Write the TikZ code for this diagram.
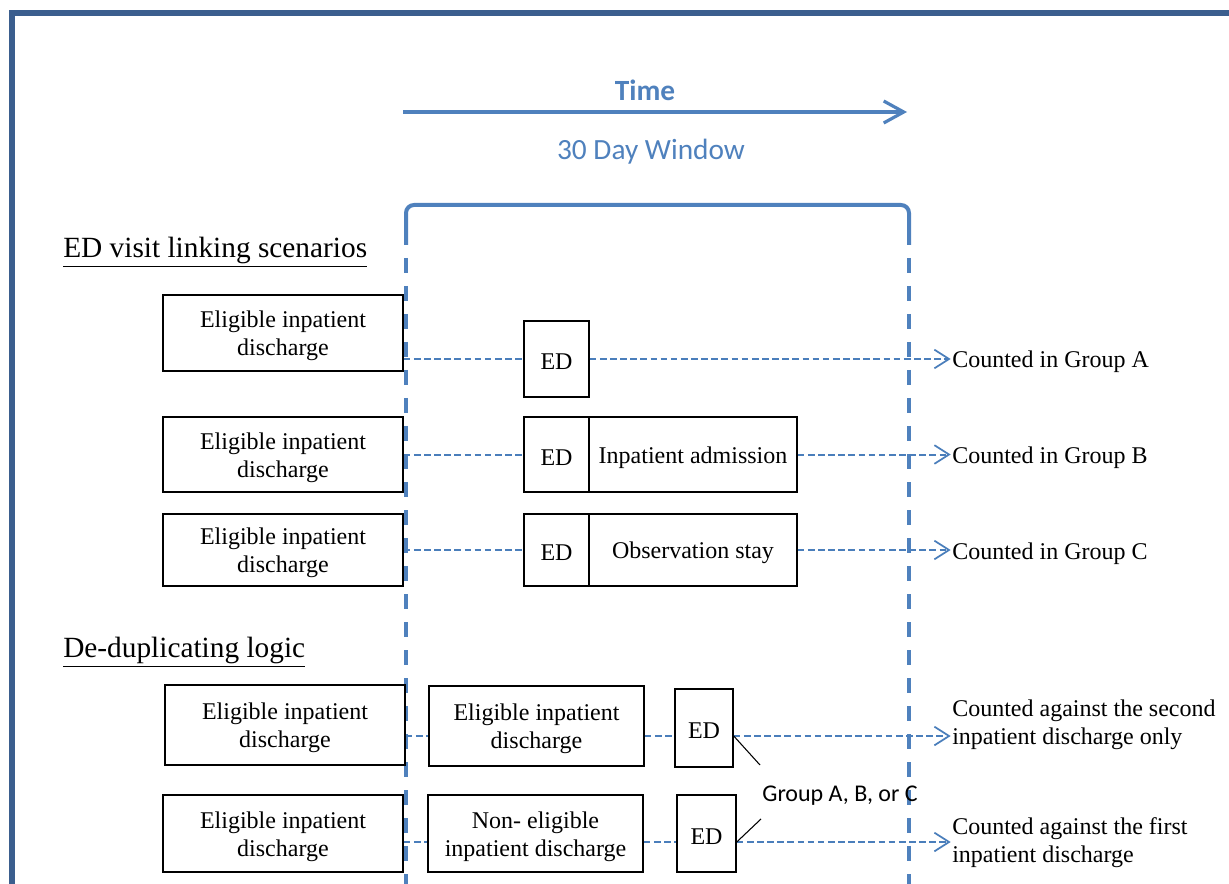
\documentclass[tikz,border=0pt]{standalone}
\usepackage{fontspec}
\setmainfont{Liberation Serif}
\newfontfamily\calibrifont{Carlito}
\usetikzlibrary{arrows.meta,calc}
\definecolor{framecol}{HTML}{3B5E8E}
\definecolor{winblue}{HTML}{4F81BD}
\definecolor{linkblue}{HTML}{4A7EBB}
\tikzset{
  boxnode/.style={draw=black, line width=1.1pt, inner sep=0pt},
  boxtext/.style={label={[align=center, inner sep=0pt, yshift=-2.25pt,
    font=\fontsize{18}{21}\selectfont]center:{#1}}},
  outtext/.style={anchor=west, align=left, inner sep=0pt,
    font=\fontsize{18}{21}\selectfont},
  linkline/.style={draw=linkblue, line width=1.5pt, dash pattern=on 5pt off 2.6pt},
  linkarrow/.style={linkline, -{Straight Barb[length=11pt,width=14pt,line width=1.3pt]}},
  heading/.style={anchor=west, inner sep=0pt, font=\fontsize{22}{26}\selectfont},
  windowline/.style={draw=winblue, line width=3pt},
  labelline/.style={draw=black, line width=0.8pt},
}
\begin{document}
\begin{tikzpicture}[x=0.75pt,y=-0.75pt]
\useasboundingbox (0,0) rectangle (1229,884);
% frame
\draw[framecol, line width=3.8pt] (12,884) -- (12,13) -- (1229,13);

% time arrow
\coordinate (tstart) at (403,112);
\coordinate (tend) at (907,112);
\draw[winblue, line width=2.6pt, -{Straight Barb[length=15pt,width=16.5pt,line width=2.4pt]}] (tstart) -- (tend);
\node[text=winblue, font=\calibrifont\bfseries\fontsize{22}{26}\selectfont] (time) at (645,90) {Time};
\node[text=winblue, font=\calibrifont\fontsize{22}{26}\selectfont] (win) at (651,152) {30 Day Window};

% window bracket
\coordinate (wl1) at (406,245);
\coordinate (wl0) at (406,205);
\coordinate (wr0) at (909,205);
\coordinate (wr1) at (909,245);
\draw[windowline, rounded corners=6pt] (wl1) -- (wl0) -- (wr0) -- (wr1);
\coordinate (wl2) at (406,258);
\coordinate (wl3) at (406,884);
\coordinate (wr2) at (909,258);
\coordinate (wr3) at (909,884);
\draw[windowline, dash pattern=on 11.25pt off 9.75pt] (wl2) -- (wl3);
\draw[windowline, dash pattern=on 11.25pt off 9.75pt] (wr2) -- (wr3);

% headings
\node[heading] (h1) at (63,252) {\underline{ED visit linking scenarios}};
\node[heading] (h2) at (63,652) {\underline{De-duplicating logic}};

% row A
\node[boxnode, minimum width=180pt, minimum height=57pt, boxtext={Eligible inpatient\\discharge}] (A1) at (283,333) {};
\node[boxnode, minimum width=48.75pt, minimum height=57pt, boxtext={ED}] (EDA) at (556.5,359) {};
\node[outtext] (tA) at (952,362) {Counted in Group A};
\draw[linkline] (A1.east |- EDA.west) -- (EDA.west);
\draw[linkarrow] (EDA.east) -- ([xshift=-1pt]tA.west |- EDA.east);

% row B
\node[boxnode, minimum width=180pt, minimum height=56.25pt, boxtext={Eligible inpatient\\discharge}] (B1) at (283,454.5) {};
\node[boxnode, minimum width=48.75pt, minimum height=56.25pt, boxtext={ED}] (EDB) at (556.5,454.5) {};
\node[boxnode, minimum width=156pt, minimum height=56.25pt, boxtext={Inpatient admission}] (IAB) at (693,454.5) {};
\node[outtext] (tB) at (952,457.5) {Counted in Group B};
\draw[linkline] (B1.east) -- (EDB.west);
\draw[linkarrow] (IAB.east) -- ([xshift=-1pt]tB.west |- IAB.east);

% row C
\node[boxnode, minimum width=180pt, minimum height=54pt, boxtext={Eligible inpatient\\discharge}] (C1) at (283,550) {};
\node[boxnode, minimum width=48.75pt, minimum height=54pt, boxtext={ED}] (EDC) at (556.5,550) {};
\node[boxnode, minimum width=156pt, minimum height=54pt, boxtext={Observation stay}] (OBC) at (693,550) {};
\node[outtext] (tC) at (952,554) {Counted in Group C};
\draw[linkline] (C1.east) -- (EDC.west);
\draw[linkarrow] (OBC.east) -- ([xshift=-1pt]tC.west |- OBC.east);

% de-dup row 1
\coordinate (r1) at (0,736);
\node[boxnode, minimum width=180pt, minimum height=60pt, boxtext={Eligible inpatient\\discharge}] (D1) at (285,725) {};
\node[boxnode, minimum width=161.25pt, minimum height=60pt, boxtext={Eligible inpatient\\discharge}] (D1b) at (536.5,726) {};
\node[boxnode, minimum width=43.5pt, minimum height=58.5pt, boxtext={ED}] (D1e) at (704,728) {};
\node[outtext] (tD1) at (952,725) {Counted against the second\\inpatient discharge only};
\coordinate (tD1in) at ([xshift=-1pt]tD1.west |- r1);
\draw[linkline] (D1.east |- r1) -- (D1b.west |- r1);
\draw[linkline] (D1b.east |- r1) -- (D1e.west |- r1);
\draw[linkarrow] (D1e.east |- r1) -- (tD1in);

% de-dup row 2
\coordinate (r2) at (0,842);
\node[boxnode, minimum width=180pt, minimum height=57.75pt, boxtext={Eligible inpatient\\discharge}] (D2) at (283,833.5) {};
\node[boxnode, minimum width=161.25pt, minimum height=57.75pt, boxtext={Non- eligible\\inpatient discharge}] (D2b) at (535.5,833.5) {};
\node[boxnode, minimum width=44.25pt, minimum height=57.75pt, boxtext={ED}] (D2e) at (706.5,833.5) {};
\node[outtext] (tD2) at (952,843) {Counted against the first\\inpatient discharge};
\coordinate (tD2in) at ([xshift=-1pt]tD2.west |- r2);
\draw[linkline] (D2.east |- r2) -- (D2b.west |- r2);
\draw[linkline] (D2b.east |- r2) -- (D2e.west |- r2);
\draw[linkarrow] (D2e.east |- r2) -- (tD2in);

% group label
\node[font=\calibrifont\fontsize{18}{21}\selectfont, inner sep=0pt] (grp) at (840,796) {Group A, B, or C};
\coordinate (g1) at (760,765);
\coordinate (g2) at (761,819);
\draw[labelline] (D1e.east |- r1) -- (g1);
\draw[labelline] (D2e.east |- r2) -- (g2);
\end{tikzpicture}
\end{document}
